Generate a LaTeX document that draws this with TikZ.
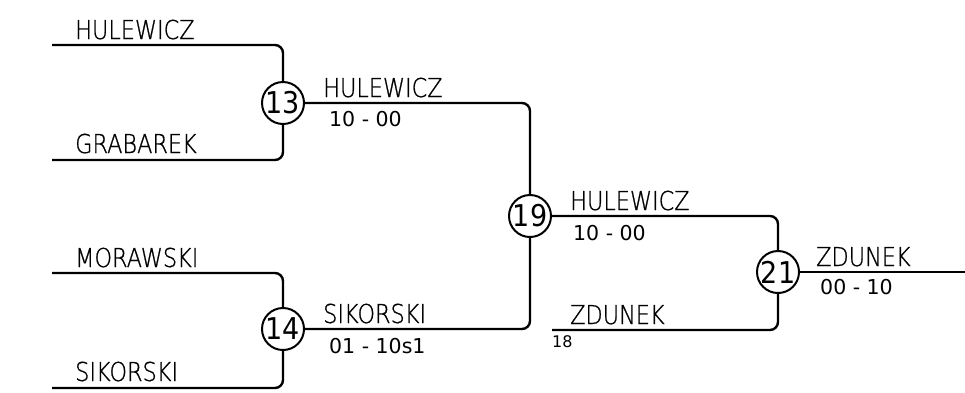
\documentclass[tikz,border=0pt]{standalone}
\usepackage{fontspec}
\setmainfont{DejaVu Sans}
\newfontfamily\namefont{DejaVu Sans ExtraLight}[FakeStretch=0.86,FakeBold=0.8]
\newfontfamily\numfont{DejaVu Sans Condensed}
\begin{document}
\begin{tikzpicture}[x=1pt,y=-1pt,
  wire/.style={line width=2.4pt,rounded corners=8pt},
  match/.style={circle,draw,line width=2pt,fill=white,minimum size=42pt,inner sep=0pt,font=\numfont\fontsize{30}{30}\selectfont},
  player/.style={anchor=base west,inner sep=0pt,font=\namefont\fontsize{26}{26}\selectfont},
  score/.style={anchor=base west,inner sep=0pt,font=\fontsize{20.5}{20.5}\selectfont},
  seed/.style={anchor=base west,inner sep=0pt,font=\fontsize{16}{16}\selectfont}]
\useasboundingbox (0,0) rectangle (965,392);
% coordinates
\coordinate (a1) at (52,45);
\coordinate (a2) at (52,160);
\coordinate (b1) at (52,273);
\coordinate (b2) at (52,388);
\coordinate (z1) at (552,330);
\coordinate (fin) at (965,272);
% matches
\node[match] (m13) at (283,103) {13};
\node[match] (m14) at (283,329) {14};
\node[match] (m19) at (530,216) {19};
\node[match] (m21) at (778,272) {21};
% wires
\draw[wire] (a1) -| (m13.north);
\draw[wire] (a2) -| (m13.south);
\draw[wire] (b1) -| (m14.north);
\draw[wire] (b2) -| (m14.south);
\draw[wire] (m13.east) -| (m19.north);
\draw[wire] (m14.east) -| (m19.south);
\draw[wire] (m19.east) -| (m21.north);
\draw[wire] (z1) -| (m21.south);
\draw[wire] (m21.east) -- (fin);
% names
\node[player] (n1) at (75,39) {HULEWICZ};
\node[player] (n2) at (75,153) {GRABAREK};
\node[player] (n3) at (75,267) {MORAWSKI};
\node[player] (n4) at (75,381) {SIKORSKI};
\node[player] (n5) at (323,97) {HULEWICZ};
\node[score] (s5) at (329,126) {10 - 00};
\node[player] (n6) at (323,323) {SIKORSKI};
\node[score] (s6) at (329,353) {01 - 10s1};
\node[player] (n7) at (570,210) {HULEWICZ};
\node[score] (s7) at (573,240) {10 - 00};
\node[player] (n8) at (570,324) {ZDUNEK};
\node[seed] (s8) at (552,347) {18};
\node[player] (n9) at (816,266) {ZDUNEK};
\node[score] (s9) at (820,294) {00 - 10};
\end{tikzpicture}
\end{document}
